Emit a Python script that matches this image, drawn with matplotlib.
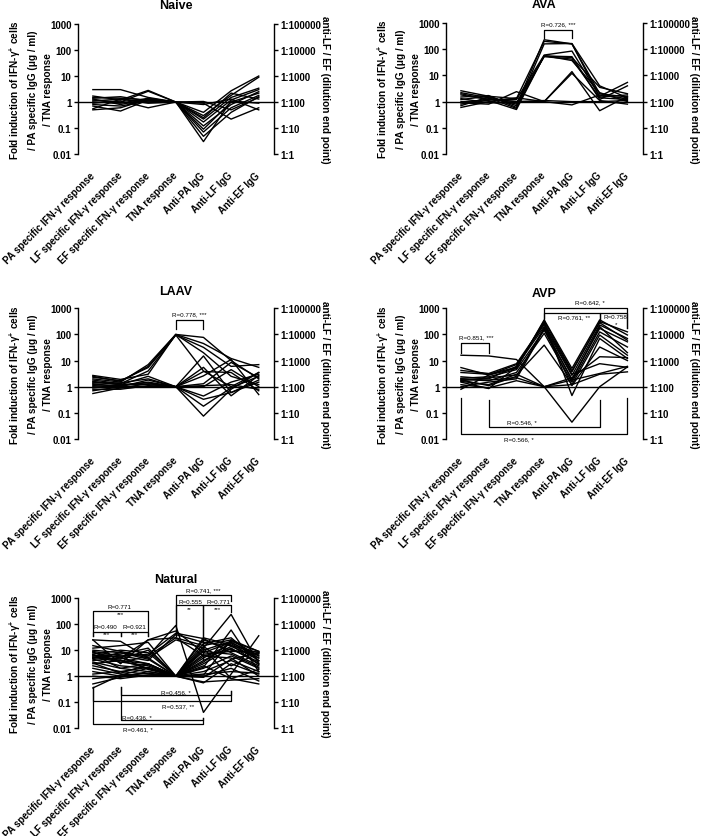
import numpy as np
import matplotlib.pyplot as plt
from matplotlib.ticker import NullLocator
from matplotlib.transforms import ScaledTranslation

plt.rcParams['font.family'] = ['Liberation Sans', 'DejaVu Sans']
plt.rcParams['font.weight'] = 'bold'
plt.rcParams['mathtext.fontset'] = 'custom'
plt.rcParams['mathtext.rm'] = 'Liberation Sans:bold'
plt.rcParams['mathtext.it'] = 'Liberation Sans:bold'
plt.rcParams['mathtext.bf'] = 'Liberation Sans:bold'

# categories and tick labels
cats = ['PA specific IFN-γ response', 'LF specific IFN-γ response',
        'EF specific IFN-γ response', 'TNA response', 'Anti-PA IgG',
        'Anti-LF IgG', 'Anti-EF IgG']
left_ticks = [0.01, 0.1, 1, 10, 100, 1000]
left_labels = ['0.01', '0.1', '1', '10', '100', '1000']
right_labels = ['1:1', '1:10', '1:100', '1:1000', '1:10000', '1:100000']

# one row per subject: PA, LF, EF, TNA, anti-PA, anti-LF, anti-EF
naive = [
    [3.0, 3.0, 1.5, 1, 1.05, 0.5, 1.5],
    [1.7, 1.2, 2.8, 1, 0.4, 2.7, 10],
    [1.5, 1.4, 1.2, 1, 0.3, 1.8, 9],
    [1.3, 0.8, 1.3, 1, 0.22, 1.5, 3.4],
    [1.2, 1.0, 2.6, 1, 0.17, 1.2, 3.0],
    [1.1, 1.3, 1.0, 1, 0.12, 0.8, 2.5],
    [1.0, 0.9, 1.4, 1, 0.09, 1.0, 2.2],
    [0.9, 1.1, 0.6, 1, 0.07, 0.6, 1.8],
    [0.8, 0.7, 1.1, 1, 0.048, 0.4, 1.6],
    [0.7, 0.45, 1.2, 1, 0.03, 1.1, 0.9],
    [0.55, 1.3, 0.9, 1, 0.9, 0.22, 0.6],
    [0.5, 0.6, 1.3, 1, 0.8, 1.3, 0.5],
    [1.4, 1.6, 1.1, 1, 0.25, 2.2, 1.3],
]
ava = [
    [2.6, 1.6, 0.7, 230, 160, 2.0, 1.5],
    [2.2, 1.4, 0.55, 160, 165, 4.0, 1.4],
    [1.8, 1.2, 1.2, 60, 85, 1.6, 5.4],
    [1.5, 1.7, 0.6, 55, 52, 1.2, 4.0],
    [1.3, 0.9, 0.9, 52, 42, 1.4, 1.2],
    [1.0, 1.1, 0.5, 57, 37, 2.2, 1.0],
    [0.9, 0.8, 2.4, 1, 12, 1.1, 0.8],
    [0.8, 1.3, 1.0, 1, 14, 0.45, 1.6],
    [0.6, 1.0, 1.4, 1.0, 0.75, 1.8, 1.3],
    [1.2, 1.6, 1.3, 200, 160, 1.5, 1.8],
    [0.7, 1.5, 0.8, 55, 48, 3.5, 2.0],
    [2.0, 1.2, 1.0, 1.1, 1.0, 1.0, 1.1],
]
laav = [
    [2.7, 1.9, 3.0, 100, 77, 10, 2.0],
    [2.3, 1.7, 5.4, 95, 32, 6.0, 7.0],
    [2.0, 1.5, 7.0, 100, 20, 2.5, 1.2],
    [1.8, 1.3, 4.0, 95, 4.0, 1.0, 3.5],
    [1.5, 1.2, 2.5, 1, 15, 0.6, 1.5],
    [1.3, 1.0, 1.8, 1, 5.5, 0.45, 2.7],
    [1.2, 1.1, 1.5, 1, 3.8, 3.5, 0.7],
    [1.0, 0.9, 1.3, 1, 2.6, 11, 0.5],
    [0.9, 1.2, 1.2, 1, 1.3, 8.5, 2.2],
    [0.8, 0.8, 1.1, 1, 1.0, 4.5, 1.0],
    [0.7, 1.0, 1.0, 1, 0.44, 1.5, 3.0],
    [0.55, 0.9, 1.0, 1, 0.33, 0.6, 1.8],
    [1.4, 1.4, 2.0, 1, 0.18, 0.9, 2.5],
    [1.1, 1.0, 1.0, 1, 0.075, 0.8, 3.5],
    [1.6, 1.2, 1.4, 1, 1.1, 1.2, 0.8],
    [2.5, 1.6, 6.0, 100, 45, 12, 5.5],
]
avp = [
    [16, 15, 11, 1, 1.2, 3.0, 3.7],
    [5.4, 2.8, 5.0, 360, 5.0, 360, 95],
    [4.2, 3.2, 7.6, 265, 3.7, 310, 125],
    [2.4, 2.0, 6.0, 200, 2.7, 230, 70],
    [2.1, 2.4, 4.5, 145, 2.0, 170, 52],
    [1.9, 1.7, 3.5, 110, 1.5, 125, 33],
    [1.7, 2.2, 2.8, 39, 1.2, 95, 16],
    [1.5, 0.85, 5.7, 300, 0.46, 70, 12],
    [1.2, 0.9, 1.7, 1, 0.044, 1.0, 5.7],
    [1.0, 1.5, 2.0, 160, 1.1, 33, 10],
    [1.6, 1.2, 3.0, 1, 2.2, 14, 13],
    [0.8, 2.8, 7.0, 240, 3.0, 7.6, 5.5],
    [2.0, 1.8, 2.2, 1.0, 1.8, 3.2, 6.0],
    [3.5, 3.0, 5.5, 330, 4.0, 280, 60],
    [1.8, 1.1, 2.5, 180, 1.8, 200, 20],
]
natural = [
    [25, 22, 5.0, 1, 12, 240, 3.0],
    [25, 3.0, 25, 55, 8, 20, 5.0],
    [10, 8, 6, 90, 0.04, 1.2, 36],
    [9, 6, 4, 40, 20, 15, 8],
    [8, 5, 25, 30, 15, 25, 6],
    [7, 10, 8, 1, 10, 22, 9],
    [6.5, 4, 3, 1, 25, 10, 7],
    [6, 7, 12, 1, 5, 18, 4],
    [5.5, 3.5, 2.5, 1, 3, 12, 3],
    [5, 6, 7, 45, 28, 8, 2.5],
    [4.5, 2.5, 2, 1, 2, 6, 2],
    [4, 5, 3, 1, 7, 9, 8.5],
    [3.5, 2, 1.5, 1, 1.5, 4, 1.5],
    [3, 4, 2, 1, 0.55, 3, 1.2],
    [2.5, 1.5, 1.2, 1, 4, 14, 5],
    [2, 1.2, 1, 1, 1, 2, 0.65],
    [1.5, 1.0, 1.3, 1, 2.5, 0.8, 1.8],
    [1.2, 1.5, 2.2, 1, 6, 5, 1.0],
    [1.0, 0.8, 1.1, 1, 1.2, 1.5, 1.3],
    [0.8, 1.0, 1.0, 1, 0.6, 0.7, 0.8],
    [0.5, 0.9, 1.5, 1, 9, 7, 2.2],
    [0.35, 1.1, 2.0, 1, 3.5, 20, 6],
    [12, 15, 20, 1, 1.1, 25, 9],
    [15, 9, 5, 25, 12, 0.8, 0.5],
    [7, 2, 3, 1, 18, 30, 4],
    [6, 5.5, 1.8, 1, 14, 2.5, 7.5],
    [8.5, 3.3, 6, 30, 6, 11, 3.5],
    [4.8, 8, 4.5, 1, 30, 16, 2.8],
    [3.2, 1.3, 2.8, 1, 2.2, 60, 1.5],
    [5.2, 4.5, 10, 1, 0.9, 4.5, 8],
]

# brackets: x1, x2, bar level, leg end at x1, leg end at x2
# texts: x, y, text
ava_br = [(3, 4, 550, 265, 265)]
ava_txt = [(3.5, 915, 'R=0.726, ***')]
laav_br = [(3, 4, 365, 160, 160)]
laav_txt = [(3.5, 600, 'R=0.778, ***')]
avp_br = [(0, 1, 47, 20, 20), (3, 6, 1000, 425, 175), (3, 5, 660, 305, 305),
          (5, 6, 660, 305, 175), (1, 5, 0.028, 0.32, 0.32), (0, 6, 0.016, 0.36, 0.36)]
avp_txt = [(0.54, 81, 'R=0.851, ***'), (4.63, 1750, 'R=0.642, *'), (4.06, 490, 'R=0.761, **'),
           (5.57, 490, 'R=0.758'), (5.6, 270, '*'), (2.2, 0.045, 'R=0.546, *'),
           (2.1, 0.0105, 'R=0.566, *')]
nat_br = [(0, 2, 333, 36, 36), (0, 1, 52, 36, 36), (1, 2, 52, 36, 36),
          (3, 5, 1400, 36, 810), (3, 4, 570, 36, 4.7), (4, 5, 570, 4.7, 300),
          (1, 5, 0.18, 0.38, 0.27), (0, 5, 0.115, 0.38, 0.27),
          (1, 4, 0.0196, 0.38, 0.025), (0, 4, 0.0147, 0.38, 0.025)]
nat_txt = [(0.95, 480, 'R=0.771'), (1.0, 250, '***'), (0.45, 81, 'R=0.490'), (0.5, 42, '***'),
           (1.5, 81, 'R=0.921'), (1.5, 42, '***'), (4.0, 2080, 'R=0.741, ***'),
           (3.54, 770, 'R=0.555'), (3.5, 390, '**'), (4.55, 770, 'R=0.771'), (4.5, 390, '***'),
           (3.02, 0.26, 'R=0.456, *'), (3.08, 0.074, 'R=0.537, **'),
           (1.6, 0.028, 'R=0.436, *'), (1.63, 0.0094, 'R=0.461, *')]

ylab = 'Fold induction of IFN-γ$^{+}$ cells\n/ PA specific IgG (μg / ml)\n/ TNA response'
rlab = 'anti-LF / EF (dilution end point)'

fig = plt.figure(figsize=(7.01, 8.37), dpi=100)


def panel(rect, title, rows, brs, txts, tpad):
    ax = fig.add_axes(rect)
    x = np.arange(len(cats))
    for r in rows:
        ax.plot(x, r, color='black', lw=1.0)
    ax.axhline(1, color='black', lw=1.0)
    ax.set_yscale('log')
    ax.set_ylim(0.01, 1000)
    ax.set_xlim(-0.55, 6.55)
    ax.set_yticks(left_ticks)
    ax.set_yticklabels(left_labels)
    ax.yaxis.set_minor_locator(NullLocator())
    ax.set_xticks(x)
    ax.set_xticklabels(cats, rotation=45, ha='right', va='center', rotation_mode='anchor')
    off = ScaledTranslation(3 / 100, 0, fig.dpi_scale_trans)
    for lab in ax.get_xticklabels():
        lab.set_transform(lab.get_transform() + off)
    ax.tick_params(axis='x', length=0, pad=14, labelsize=7)
    ax.tick_params(axis='y', length=3, width=1, labelsize=7, pad=1.5)
    for s in ['top', 'bottom', 'right']:
        ax.spines[s].set_visible(False)
    ax.spines['left'].set_linewidth(1.0)
    ax.set_title(title, fontsize=9, fontweight='bold', pad=tpad)
    ax.text(-0.24, 0.5, ylab, transform=ax.transAxes, rotation=90, ha='center',
            va='center', multialignment='center', fontsize=7.2, linespacing=1.6)

    ax2 = ax.twinx()
    ax2.set_yscale('log')
    ax2.set_ylim(0.01, 1000)
    ax2.set_yticks(left_ticks)
    ax2.set_yticklabels(right_labels)
    ax2.yaxis.set_minor_locator(NullLocator())
    ax2.tick_params(axis='y', length=3, width=1, labelsize=7, pad=1.5)
    for s in ['top', 'bottom', 'left']:
        ax2.spines[s].set_visible(False)
    ax2.spines['right'].set_linewidth(1.0)
    ax2.text(1.262, 0.5, rlab, transform=ax.transAxes, rotation=-90, ha='center',
             va='center', fontsize=7.2)

    for x1, x2, yb, l1, l2 in brs:
        ax.plot([x1, x1, x2, x2], [l1, yb, yb, l2], color='black', lw=0.9, clip_on=False)
    for tx, ty, t in txts:
        ax.text(tx, ty, t, ha='center', va='center', fontsize=4.5, fontweight='normal')
    return ax


panel([0.1108, 0.8148, 0.280, 0.1553], 'Naive', naive, [], [], 11.5)
panel([0.6358, 0.8148, 0.281, 0.1565], 'AVA', ava, ava_br, ava_txt, 11.5)
panel([0.1108, 0.4743, 0.280, 0.1562], 'LAAV', laav, laav_br, laav_txt, 10)
panel([0.6358, 0.4743, 0.281, 0.1562], 'AVP', avp, avp_br, avp_txt, 8.6)
panel([0.1108, 0.1290, 0.280, 0.1550], 'Natural', natural, nat_br, nat_txt, 11.8)

fig.savefig('out.png', dpi=100)
